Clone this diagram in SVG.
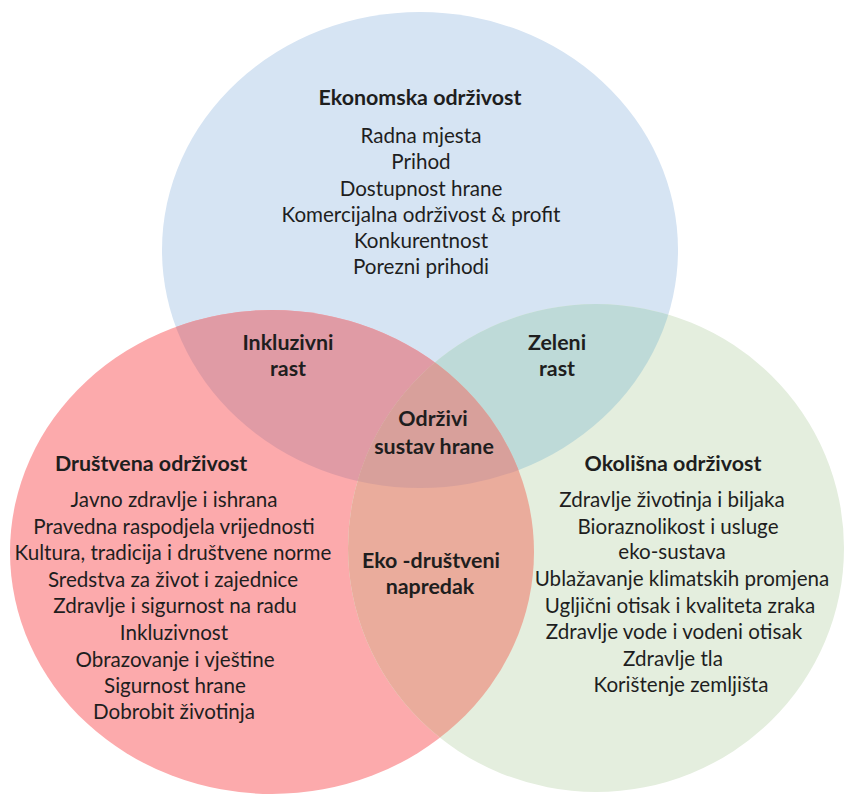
<svg xmlns="http://www.w3.org/2000/svg" width="844" height="794" viewBox="0 0 844 794">
<style>
.t{font-family:"Lato","Liberation Sans",sans-serif;font-size:20.6px;fill:#1e1e1e;text-anchor:middle}
.b{font-weight:bold;font-size:21.4px}
</style>
<defs>
<clipPath id="cBlue"><ellipse cx="420" cy="250" rx="258" ry="238"/></clipPath>
<clipPath id="cRed"><ellipse cx="272" cy="552" rx="262" ry="242"/></clipPath>
</defs>
<rect width="844" height="794" fill="#ffffff"/>
<g id="circles">
<ellipse id="blue" cx="420" cy="250" rx="258" ry="238" fill="#d6e4f3"/>
<ellipse id="red" cx="272" cy="552" rx="262" ry="242" fill="#fcaaac"/>
<ellipse id="green" cx="596" cy="548" rx="248" ry="244" fill="#e4eede"/>
<ellipse cx="272" cy="552" rx="262" ry="242" fill="#e09ba5" clip-path="url(#cBlue)"/>
<ellipse cx="596" cy="548" rx="248" ry="244" fill="#bedad8" clip-path="url(#cBlue)"/>
<ellipse cx="596" cy="548" rx="248" ry="244" fill="#eaac9c" clip-path="url(#cRed)"/>
<g clip-path="url(#cBlue)"><ellipse cx="596" cy="548" rx="248" ry="244" fill="#d8a09b" clip-path="url(#cRed)"/></g>
</g>
<g id="economic">
<text class="t b" x="420" y="105">Ekonomska održivost</text>
<text class="t" x="421" y="143">Radna mjesta</text>
<text class="t" x="421" y="169">Prihod</text>
<text class="t" x="421" y="196">Dostupnost hrane</text>
<text class="t" x="421" y="222">Komercijalna održivost &amp; profit</text>
<text class="t" x="421" y="248">Konkurentnost</text>
<text class="t" x="421" y="274">Porezni prihodi</text>
</g>
<g id="inclusive">
<text class="t b" x="288" y="350">Inkluzivni</text>
<text class="t b" x="288" y="376">rast</text>
</g>
<g id="green-growth">
<text class="t b" x="557" y="350">Zeleni</text>
<text class="t b" x="557" y="376">rast</text>
</g>
<g id="sustainable">
<text class="t b" x="433" y="426">Održivi</text>
<text class="t b" x="434" y="454">sustav hrane</text>
</g>
<g id="eco-social">
<text class="t b" x="431" y="568">Eko -društveni</text>
<text class="t b" x="430" y="594">napredak</text>
</g>
<g id="social">
<text class="t b" x="151" y="471">Društvena održivost</text>
<text class="t" x="174" y="507">Javno zdravlje i ishrana</text>
<text class="t" x="174" y="534">Pravedna raspodjela vrijednosti</text>
<text class="t" x="173" y="560">Kultura, tradicija i društvene norme</text>
<text class="t" x="173" y="587">Sredstva za život i zajednice</text>
<text class="t" x="175" y="613">Zdravlje i sigurnost na radu</text>
<text class="t" x="174" y="640">Inkluzivnost</text>
<text class="t" x="175" y="667">Obrazovanje i vještine</text>
<text class="t" x="175" y="693">Sigurnost hrane</text>
<text class="t" x="174" y="719">Dobrobit životinja</text>
</g>
<g id="environmental">
<text class="t b" x="673" y="471">Okolišna održivost</text>
<text class="t" x="672" y="507">Zdravlje životinja i biljaka</text>
<text class="t" x="678" y="534">Bioraznolikost i usluge</text>
<text class="t" x="672" y="559">eko-sustava</text>
<text class="t" x="682" y="586">Ublažavanje klimatskih promjena</text>
<text class="t" x="680" y="613">Ugljični otisak i kvaliteta zraka</text>
<text class="t" x="674" y="639">Zdravlje vode i vodeni otisak</text>
<text class="t" x="673" y="666">Zdravlje tla</text>
<text class="t" x="681" y="692">Korištenje zemljišta</text>
</g>
</svg>
